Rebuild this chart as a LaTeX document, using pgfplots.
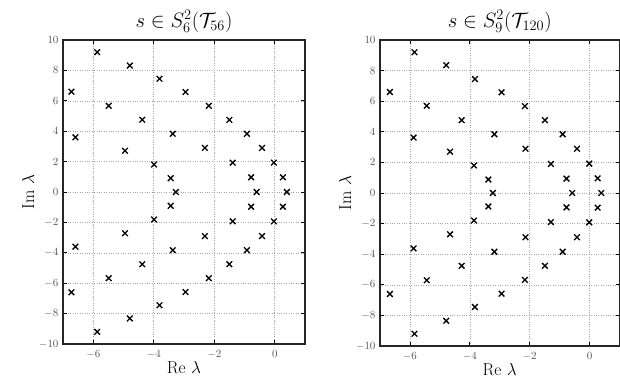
\documentclass[border=0pt]{standalone}
\usepackage{pgfplots}
\pgfplotsset{compat=1.18}
\usepackage{amsmath}

\pgfplotstableread{
re im
-6.72 6.60
-5.87 9.20
-4.79 8.32
-3.81 7.45
-2.95 6.58
-2.18 5.67
-1.50 4.75
-0.92 3.83
-0.42 2.90
-0.03 1.93
0.27 0.97
0.40 0
-6.59 3.60
-5.49 5.67
-4.38 4.75
-4.95 2.71
-3.37 3.83
-3.99 1.81
-3.44 0.91
-3.27 0
-2.31 2.90
-1.39 1.93
-0.78 0.97
-0.60 0
-6.72 -6.60
-5.87 -9.20
-4.79 -8.32
-3.81 -7.45
-2.95 -6.58
-2.18 -5.67
-1.50 -4.75
-0.92 -3.83
-0.42 -2.90
-0.03 -1.93
0.27 -0.97
-6.59 -3.60
-5.49 -5.67
-4.38 -4.75
-4.95 -2.71
-3.37 -3.83
-3.99 -1.81
-3.44 -0.91
-2.31 -2.90
-1.39 -1.93
-0.78 -0.97
}\leftdata

\pgfplotstableread{
re im
-6.67 6.60
-5.85 9.20
-4.79 8.35
-3.83 7.45
-2.94 6.58
-2.16 5.68
-1.49 4.76
-0.90 3.84
-0.42 2.89
-0.01 1.92
0.27 0.96
0.39 0
-5.88 3.62
-5.44 5.70
-4.27 4.76
-4.66 2.70
-3.18 3.84
-3.86 1.80
-3.38 0.88
-3.23 0
-2.14 2.89
-1.29 1.90
-0.77 0.94
-0.58 0
-6.67 -6.60
-5.85 -9.20
-4.79 -8.35
-3.83 -7.45
-2.94 -6.58
-2.16 -5.68
-1.49 -4.76
-0.90 -3.84
-0.42 -2.89
-0.01 -1.92
0.27 -0.96
-5.88 -3.62
-5.44 -5.70
-4.27 -4.76
-4.66 -2.70
-3.18 -3.84
-3.86 -1.80
-3.38 -0.88
-2.14 -2.89
-1.29 -1.90
-0.77 -0.94
}\rightdata

\pgfplotsset{
  eigstyle/.style={
    scale only axis,
    anchor=south west,
    xmin=-7, xmax=1, ymin=-10, ymax=10,
    xtick={-6,-4,-2,0},
    ytick={-10,-8,-6,-4,-2,0,2,4,6,8,10},
    grid=major,
    grid style={dotted, gray!70, line width=0.6pt},
    tick align=inside,
    major tick length=4pt,
    axis line style={line width=1.3pt, black!85},
    every tick/.style={black, line width=0.8pt},
    tick label style={font=\fontsize{11}{13}\selectfont, text=gray!65!black},
    xticklabel style={yshift=-3pt},
    yticklabel style={xshift=-1pt},
    label style={font=\fontsize{18}{20}\selectfont},
    title style={font=\fontsize{20}{24}\selectfont, yshift=-2pt},
    xlabel={$\mathrm{Re}\ \lambda$},
    ylabel={$\mathrm{Im}\ \lambda$},
    xlabel style={yshift=4pt},
    ylabel style={yshift=-2pt},
  },
  eigmarks/.style={only marks, mark=x, mark size=4pt, black, mark options={line width=1.3pt}},
}

\begin{document}
\begin{tikzpicture}
\useasboundingbox (0,0) rectangle (620pt,386pt);
\begin{axis}[eigstyle, at={(63pt,42pt)}, width=242pt, height=304pt,
  title={$s\in S_6^2(\mathcal{T}_{56})$}]
\addplot[eigmarks] table[x=re, y=im] {\leftdata};
\end{axis}
\begin{axis}[eigstyle, at={(380pt,40pt)}, width=239.5pt, height=306pt,
  title={$s\in S_9^2(\mathcal{T}_{120})$}]
\addplot[eigmarks] table[x=re, y=im] {\rightdata};
\end{axis}
\end{tikzpicture}
\end{document}
